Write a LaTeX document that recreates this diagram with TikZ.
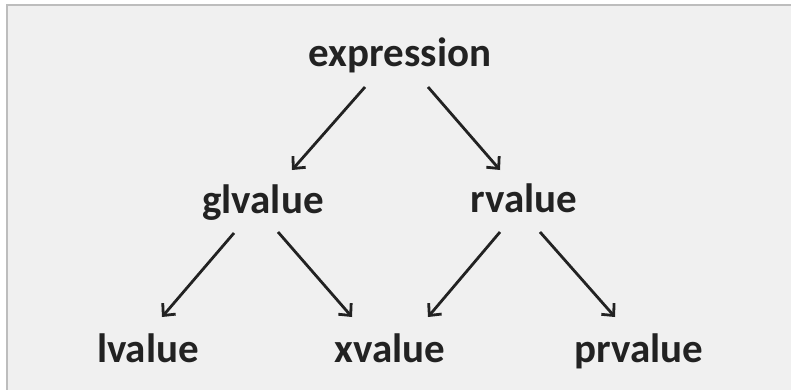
\documentclass[tikz,border=0pt]{standalone}
\usepackage{fontspec}
\setmainfont{Carlito}
\usetikzlibrary{arrows.meta}
\definecolor{panelgray}{HTML}{F0F0F0}
\definecolor{framegray}{HTML}{BDBDBD}
\definecolor{inkgray}{HTML}{222222}
\begin{document}
\begin{tikzpicture}[
        x=1pt, y=-1pt,
        font=\fontsize{41}{49}\selectfont\bfseries
    ]
    \tikzset{
        catnode/.style = {anchor=base, inner sep=0pt, text=inkgray},
        catedge/.style = {-{Straight Barb[length=9pt,width=17pt]}, line width=2.8pt, inkgray},
    }
    \useasboundingbox (0,0) rectangle (791,390);
    \fill[panelgray] (7,5) rectangle (791,390);
    \draw[framegray, line width=2pt] (7,390) -- (7,5) -- (791,5);
    %
    \node[catnode] at (400,67) (ex) {expression};
    \node[catnode] at (263,213) (gl) {glvalue};
    \node[catnode] at (524,212) (rv) {rvalue};
    \node[catnode] at (148,362) (lv) {lvalue};
    \node[catnode] at (390,362) (xv) {xvalue};
    \node[catnode] at (639,362) (pr) {prvalue};
    %
    \draw[catedge] ([shift={(-35,20)}]ex.base) -- ([shift={(29,-43)}]gl.base);
    \draw[catedge] ([shift={(28,20)}]ex.base) -- ([shift={(-24,-42)}]rv.base);
    %
    \draw[catedge] ([shift={(-29,20)}]gl.base) -- ([shift={(14,-45)}]lv.base);
    \draw[catedge] ([shift={(15,19)}]gl.base) -- ([shift={(-38,-45)}]xv.base);
    %
    \draw[catedge] ([shift={(-24,20)}]rv.base) -- ([shift={(38,-45)}]xv.base);
    \draw[catedge] ([shift={(16,20)}]rv.base) -- ([shift={(-24,-45)}]pr.base);
\end{tikzpicture}
\end{document}
